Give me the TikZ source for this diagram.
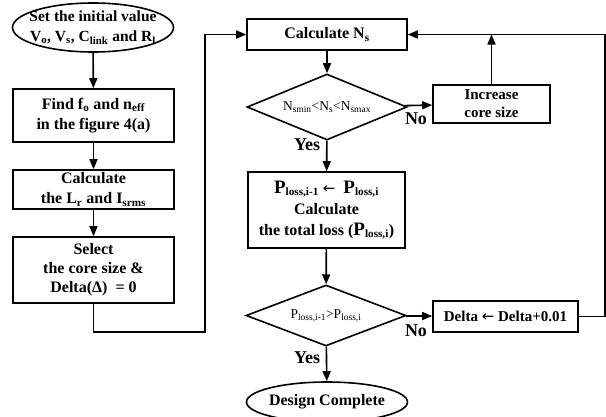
\documentclass[tikz,border=0pt]{standalone}
\usepackage{fontspec}
\setmainfont{Liberation Serif}
\newfontfamily\arrowfont{DejaVu Sans}
\usetikzlibrary{shapes.geometric,arrows.meta}
\newcommand{\lo}[1]{\textsubscript{#1}}
\newcommand{\bigP}{{\fontsize{19}{20}\selectfont P}}
\newcommand{\getsarrow}{{\arrowfont\mdseries\fontsize{15}{20}\selectfont ←}}

\begin{document}
\begin{tikzpicture}[x=1pt,y=-1pt,line width=1.6pt,>={Triangle[length=10pt,width=8pt]},
  every node/.style={font=\fontsize{16}{20}\selectfont\bfseries,align=center,inner sep=0pt},
  blk/.style={draw,rectangle,minimum width=161pt},
  test/.style={draw,diamond,aspect=2.4,minimum width=160pt,font=\fontsize{13.5}{14}\selectfont},
  lbl/.style={font=\fontsize{18}{20}\selectfont\bfseries}]
  \useasboundingbox (0,0) rectangle (606,416);
  \node[minimum width=161pt,minimum height=49pt,font=\fontsize{15.5}{20}\selectfont\bfseries] (S) at (93,27.5) {Set the initial value\\V\lo{o}, V\lo{s}, C\lo{link} and R\lo{l}};
  \draw (S.center) ellipse (80.5pt and 24.5pt);
  \node[blk,minimum height=53pt] (F) at (93.5,115.5) {Find f\lo{o} and n\lo{eff}\\in the figure 4(a)};
  \node[blk,minimum height=39pt] (L) at (93.5,189.5) {Calculate\\the L\lo{r} and I\lo{srms}};
  \node[blk,minimum height=66pt,font=\fontsize{16}{19}\selectfont\bfseries] (C) at (93.5,270) {Select\\the core size \&\\Delta(Δ)\ \ = 0};
  \node[blk,minimum width=160pt,minimum height=31pt] (N) at (327,34.5) {Calculate N\lo{s}};
  \node[test,minimum height=66pt] (D1) at (327,107) {N\lo{smin}<N\lo{s}<N\lo{smax}};
  \node[blk,minimum width=117pt,minimum height=38pt,font=\fontsize{15}{18}\selectfont\bfseries] (I) at (491.5,104) {Increase\\core size};
  \node[blk,minimum width=157pt,minimum height=76pt,font=\fontsize{16}{21}\selectfont\bfseries] (P) at (326.5,210) {\bigP\lo{loss,i-1} \getsarrow\ \ \bigP\lo{loss,i}\\Calculate\\the total loss (\bigP\lo{loss,i})};
  \node[test,minimum height=61pt] (D2) at (326,315.5) {P\lo{loss,i-1}>P\lo{loss,i}};
  \node[blk,minimum width=145pt,minimum height=31pt,font=\fontsize{15}{20}\selectfont\bfseries] (U) at (505.5,316.5) {Delta \getsarrow\ Delta+0.01};
  \node[minimum width=161pt,minimum height=40pt] (E) at (327,402) {Design Complete};
  \draw (E.center) ellipse (80.5pt and 20pt);
  \coordinate (back) at (205,332);
  \coordinate (top) at (605,316.5);
  \draw[->] (S) -- (F);
  \draw[->] (F) -- (L);
  \draw[->] (L) -- (C);
  \draw[->] (C.south) |- (back) |- (N.west);
  \draw[->] (N) -- (D1);
  \draw[->] (D1) -- (I);
  \draw[->] (I.north) -- (I.north |- N.east);
  \draw[->] (U.east) -- (top) |- (N.east);
  \draw[->] (D1) -- (P);
  \draw[->] (P) -- (D2);
  \draw[->] (D2) -- (U);
  \draw[->] (D2) -- (E);
  \node[lbl] (no1) at (416,119) {No};
  \node[lbl] (no2) at (416,331) {No};
  \node[lbl] (yes1) at (307,145) {Yes};
  \node[lbl] (yes2) at (307,358) {Yes};
\end{tikzpicture}
\end{document}
